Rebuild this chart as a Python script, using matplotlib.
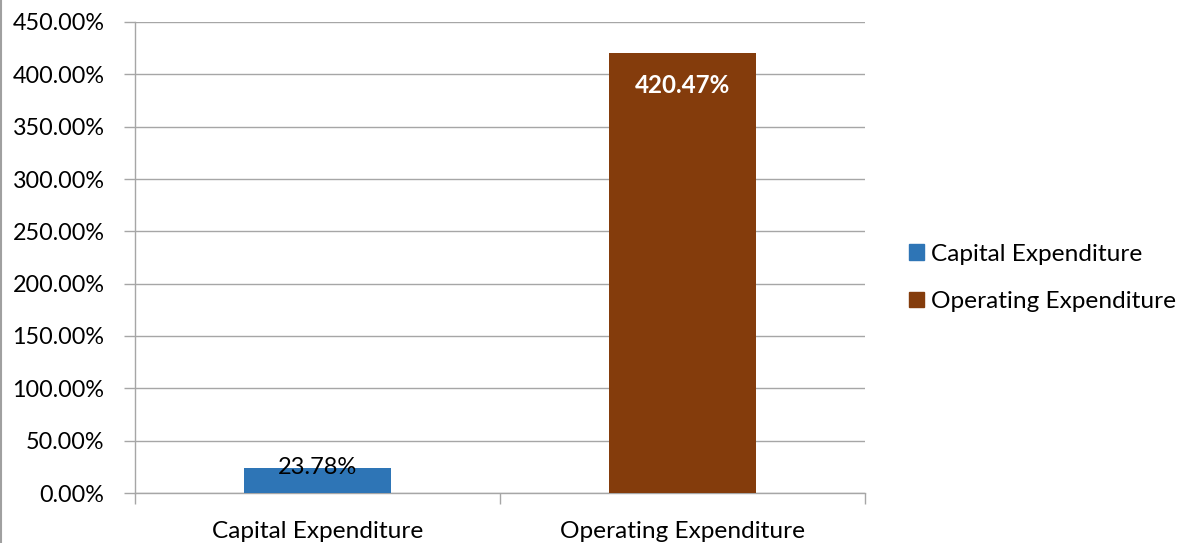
import matplotlib
matplotlib.use("Agg")
import matplotlib.pyplot as plt
from matplotlib.ticker import FuncFormatter, MultipleLocator
from matplotlib.patches import Patch
from matplotlib.lines import Line2D

categories = ["Capital Expenditure", "Operating Expenditure"]
values = [23.78, 420.47]
colors = ["#2E75B6", "#843C0C"]
y_max = 450

plt.rcParams["font.family"] = ["Lato", "DejaVu Sans"]

fig = plt.figure(figsize=(11.82, 5.43), dpi=100)
ax = fig.add_axes([135 / 1182, 50 / 543, 730 / 1182, 471 / 543])

grid_c = "#A6A6A6"
x = list(range(len(categories)))
bars = ax.bar(x, values, width=0.403, color=colors, zorder=3)

ax.set_xlim(-0.5, len(categories) - 0.5)
ax.set_ylim(0, y_max)
ax.yaxis.set_major_locator(MultipleLocator(50))
ax.yaxis.set_major_formatter(FuncFormatter(lambda v, p: f"{v:.2f}%"))
ax.grid(axis="y", color=grid_c, linewidth=1.0, zorder=0)

ax.set_xticks([-0.5, 0.5, 1.5])
ax.set_xticklabels([])
ax.set_xticks(x, minor=True)
ax.set_xticklabels(categories, minor=True, fontsize=17.6)
ax.tick_params(axis="x", which="minor", length=0, pad=20)
ax.tick_params(axis="x", which="major", length=8, color=grid_c, width=1.0)
ax.tick_params(axis="y", length=8, color=grid_c, width=1.0, labelsize=16.8, pad=14)

for s in ["top", "right"]:
    ax.spines[s].set_visible(False)
for s in ["left", "bottom"]:
    ax.spines[s].set_color(grid_c)
    ax.spines[s].set_linewidth(1.0)

# value labels
ax.text(x[0], values[0] + 1, f"{values[0]:.2f}%", ha="center", va="center",
        fontsize=17, color="black", zorder=4)
ax.text(x[1], values[1] - 31, f"{values[1]:.2f}%", ha="center", va="center",
        fontsize=17.4, color="white", fontweight="bold", zorder=4)

handles = [Patch(facecolor=c, edgecolor=c) for c in colors]
fig.legend(handles, categories, loc="center left", bbox_to_anchor=(897 / 1182, 1 - 278 / 543),
           frameon=False, fontsize=17.6, handlelength=0.6, handleheight=0.6,
           handletextpad=0.3, labelspacing=1.08, borderpad=0)

fig.add_artist(Line2D([0.0008, 0.0008], [0, 1], transform=fig.transFigure,
                      color="#A0A0A0", linewidth=1.5))

fig.savefig("out.png", dpi=100)
